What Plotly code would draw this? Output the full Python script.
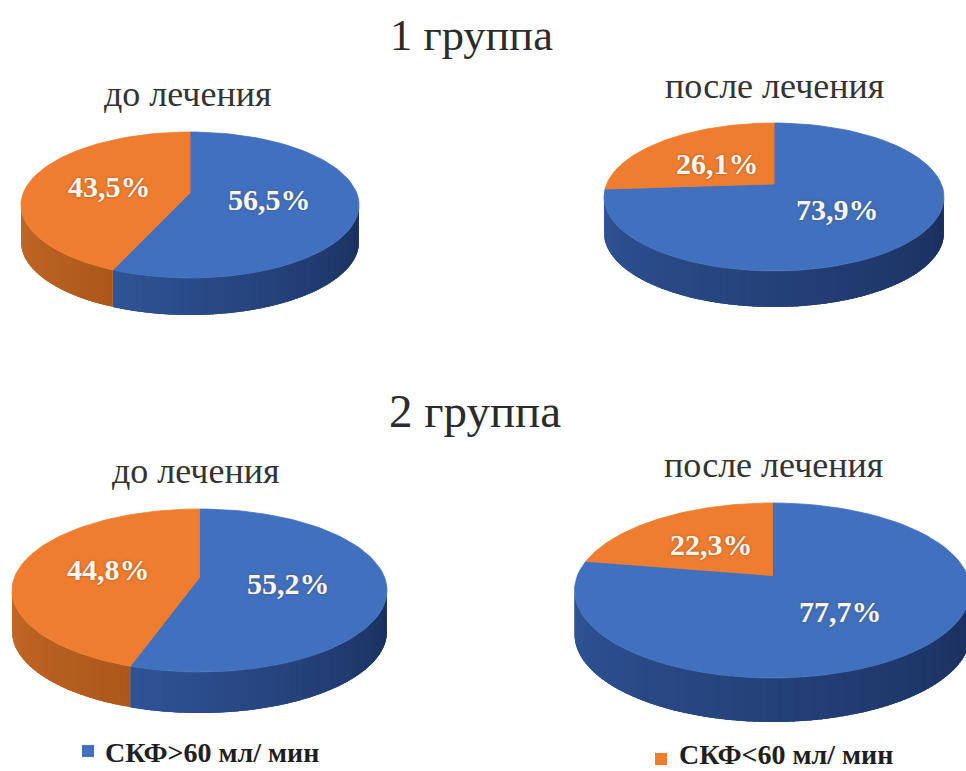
import math
import plotly.graph_objects as go

# Share of patients by eGFR class, percent
above_60 = [56.5, 73.9, 55.2, 77.7]
below_60 = [43.5, 26.1, 44.8, 22.3]
group_titles = ["1 группа", "2 группа"]
stage_titles = ["до лечения", "после лечения", "до лечения", "после лечения"]
legend_labels = ["СКФ>60 мл/ мин", "СКФ<60 мл/ мин"]

BLUE, ORANGE = "#4170BF", "#EE7D30"
SERIF = "Liberation Serif, Times New Roman, serif"

# Projected disc of each pie: centre, radii, wall height, apex lift
discs = [
    dict(cx=190, cy=205, rx=169, ry=73, depth=37, lift=12),
    dict(cx=774, cy=197, rx=170, ry=74, depth=36, lift=13),
    dict(cx=199.5, cy=590.5, rx=187.5, ry=81.5, depth=41, lift=13),
    dict(cx=772.5, cy=590.5, rx=198, ry=87.5, depth=44, lift=15),
]
# Offsets of the value labels from the pie centre
label_offsets = [
    ((79, -6), (-81, -19)),
    ((63, 12), (-57, -34)),
    ((89, -7), (-91, -21)),
    ((68, 21), (-61, -46)),
]


def rim_param(d, pct):
    """Ellipse parameter of the rim point reached by a clockwise share from 12 o'clock."""
    theta = 2 * math.pi * pct / 100
    dx, dy = d["rx"] * math.sin(theta), -d["ry"] * math.cos(theta)
    a = (dx / d["rx"]) ** 2 + (dy / d["ry"]) ** 2
    b = -2 * d["lift"] * dy / d["ry"] ** 2
    c = (d["lift"] / d["ry"]) ** 2 - 1
    s = (-b + math.sqrt(b * b - 4 * a * c)) / (2 * a)
    px, py = dx * s, dy * s - d["lift"]
    phi = math.atan2(px / d["rx"], -py / d["ry"])
    return phi % (2 * math.pi)


def rim(d, phi, drop=0):
    return d["cx"] + d["rx"] * math.sin(phi), d["cy"] - d["ry"] * math.cos(phi) + drop


def mix(c1, c2, t):
    return "rgb(%d,%d,%d)" % tuple(round(a + (b - a) * t) for a, b in zip(c1, c2))


fig = go.Figure()


def polygon(xs, ys, color, edge=0.8):
    fig.add_trace(go.Scatter(
        x=xs, y=ys, mode="lines", fill="toself", fillcolor=color,
        line=dict(color=color, width=edge), hoverinfo="skip", showlegend=False,
    ))


def wall(d, start, end, c1, c2, steps):
    # Narrow overlapping strips build the shaded side of the disc
    step = (end - start) / steps
    for i in range(steps):
        a = start + step * i
        b = min(a + step * 2.5, end) if step > 0 else a
        pts = [rim(d, a + (b - a) * k / 4) for k in range(5)]
        low = [rim(d, a + (b - a) * k / 4, d["depth"]) for k in (4, 3, 2, 1, 0)]
        polygon([p[0] for p in pts + low], [p[1] for p in pts + low],
                mix(c1, c2, (i + 0.5) / steps), edge=0)


for d, blue, orange, offs in zip(discs, above_60, below_60, label_offsets):
    split = rim_param(d, blue)
    apex = (d["cx"], d["cy"] - d["lift"])
    left_edge = 3 * math.pi / 2

    # Visible side wall, from the right edge round to the left edge
    wall(d, math.pi / 2, min(split, left_edge), (26, 46, 92), (47, 84, 150), 110)
    if split < left_edge:
        wall(d, split, left_edge, (172, 88, 28), (196, 105, 38), 40)

    # Top faces of the two sectors
    n = 90
    arc = [rim(d, split * i / n) for i in range(n + 1)]
    pts = [apex] + arc + [apex]
    polygon([p[0] for p in pts], [p[1] for p in pts], BLUE)
    arc = [rim(d, split + (2 * math.pi - split) * i / n) for i in range(n + 1)]
    pts = [apex] + arc + [apex]
    polygon([p[0] for p in pts], [p[1] for p in pts], ORANGE)

    # Value labels with a decimal comma
    for value, (ox, oy) in zip((blue, orange), offs):
        fig.add_annotation(
            x=d["cx"] + ox, y=d["cy"] + oy, text=f"{value:.1f}%".replace(".", ","),
            showarrow=False,
            font=dict(family=SERIF, size=30, color="#F8F6EE",
                      weight="bold", shadow="0 0 3px rgba(90,70,50,0.55)"),
        )

# Group and stage headings
for x, y, size, text in zip((471, 475), (35, 411), (44.5, 47), group_titles):
    fig.add_annotation(x=x, y=y, text=text, showarrow=False,
                       font=dict(family=SERIF, size=size, color="#2B2B2B"))
for x, y, text in zip((188, 774, 196, 773), (94, 86, 471, 465), stage_titles):
    fig.add_annotation(x=x, y=y, text=text, showarrow=False,
                       font=dict(family=SERIF, size=36, color="#333333"))

# Legend keys sit on their own baselines under the pies
for mx, my, tx, ty, color, text in zip((88, 661), (751, 759), (103, 677), (752, 754),
                                        (BLUE, ORANGE), legend_labels):
    fig.add_trace(go.Scatter(x=[mx], y=[my], mode="markers", hoverinfo="skip", showlegend=False,
                             marker=dict(symbol="square", size=12, color=color)))
    fig.add_annotation(x=tx, y=ty, text=text, showarrow=False, xanchor="left",
                       font=dict(family=SERIF, size=28, color="#1F1F1F", weight="bold"))

fig.update_layout(
    width=966, height=771, margin=dict(l=0, r=0, t=0, b=0),
    paper_bgcolor="white", plot_bgcolor="white", showlegend=False,
    xaxis=dict(range=[0, 966], visible=False, fixedrange=True),
    yaxis=dict(range=[771, 0], visible=False, fixedrange=True),
)
fig.write_html("out.html", config=dict(displayModeBar=False))
